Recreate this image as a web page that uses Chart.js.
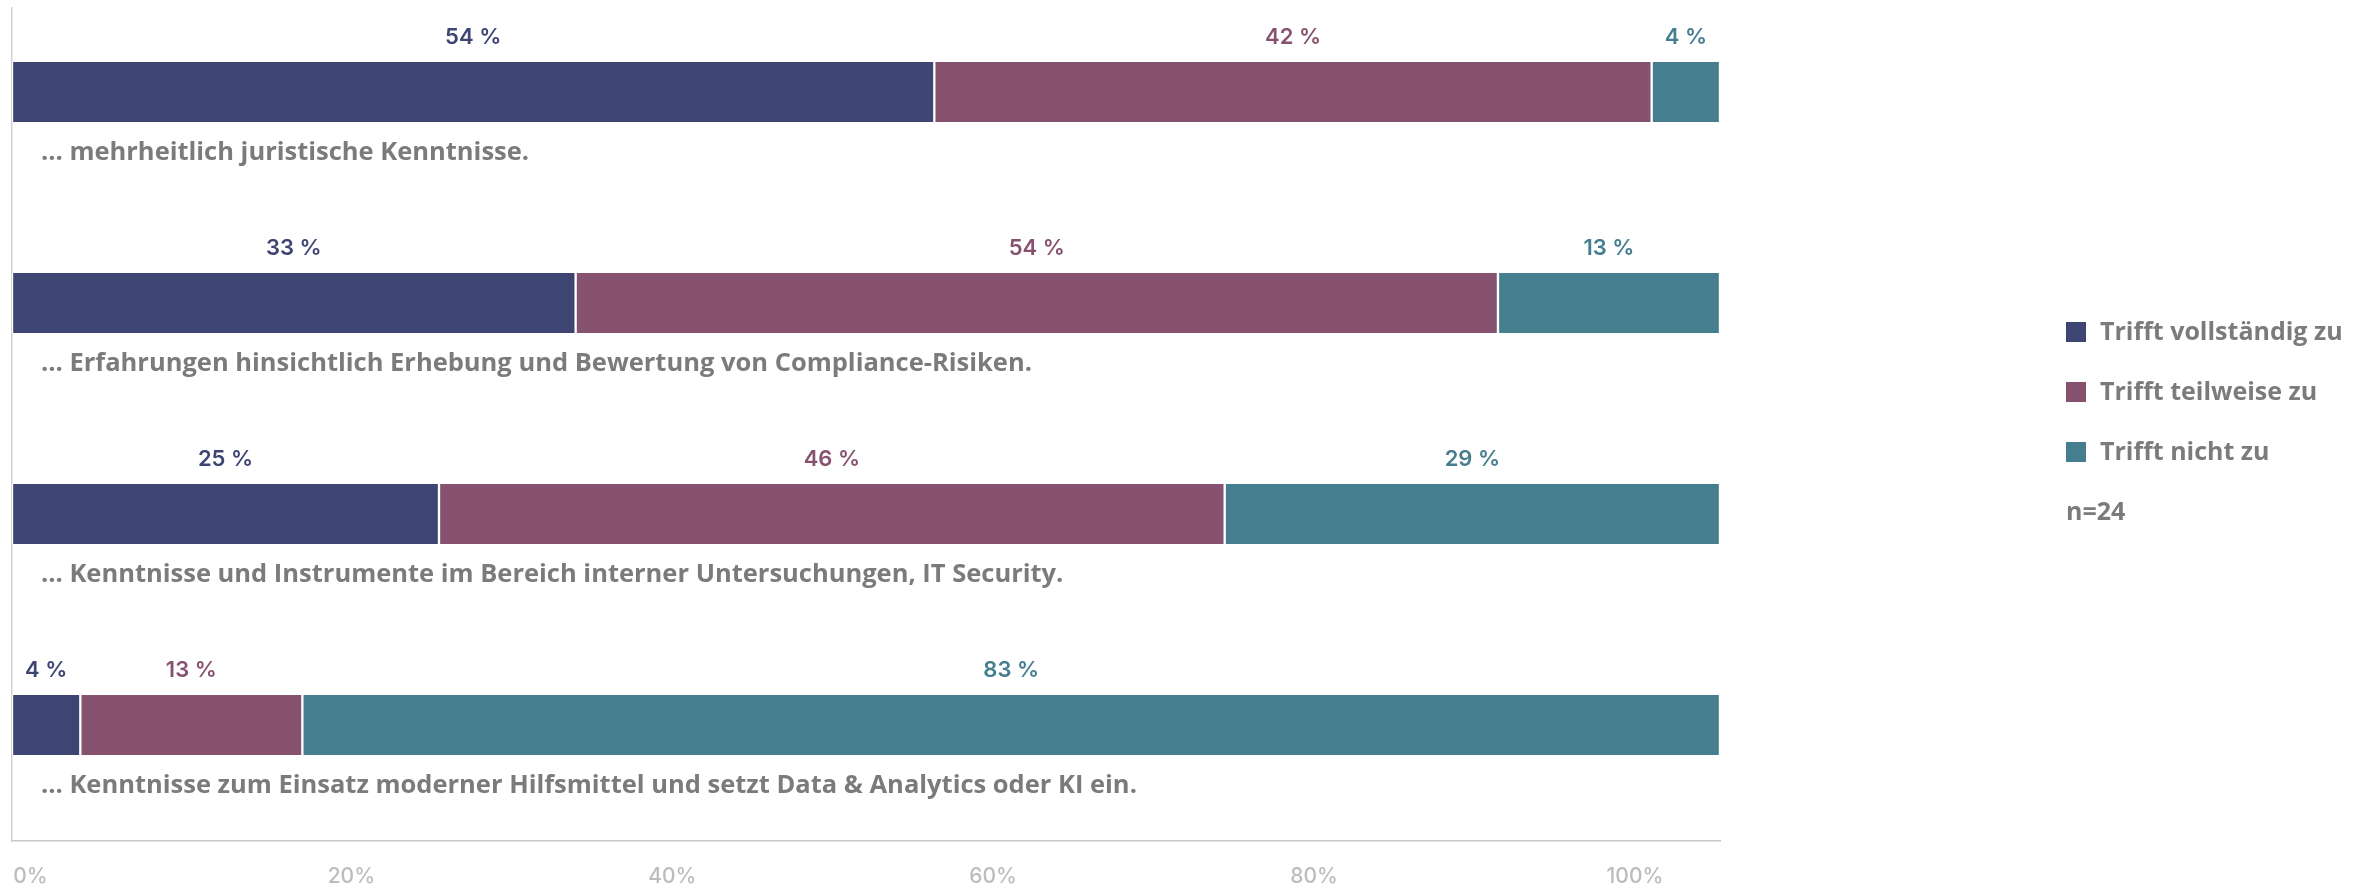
<!DOCTYPE html>
<html>
<head>
<meta charset="utf-8">
<script src="https://cdn.jsdelivr.net/npm/chart.js@4.4.1/dist/chart.umd.min.js"></script>
<style>
  html, body { margin: 0; padding: 0; background: #ffffff; }
  #wrap { position: relative; width: 2375px; height: 888px; }
</style>
</head>
<body>
<div id="wrap"><canvas id="c"></canvas></div>
<script>
// ---- data ----
const categories = [
  "… mehrheitlich juristische Kenntnisse.",
  "… Erfahrungen hinsichtlich Erhebung und Bewertung von Compliance-Risiken.",
  "… Kenntnisse und Instrumente im Bereich interner Untersuchungen, IT Security.",
  "… Kenntnisse zum Einsatz moderner Hilfsmittel und setzt Data & Analytics oder KI ein."
];
const seriesNames = ["Trifft vollständig zu", "Trifft teilweise zu", "Trifft nicht zu"];
const vollstaendig = [54, 33, 25, 4];
const teilweise = [42, 54, 46, 13];
const nicht = [4, 13, 29, 83];
const tickValues = [0, 20, 40, 60, 80, 100];
const sampleNote = "n=24";

const colors = ["#3f4572", "#875270", "#457e8f"];
const seriesValues = [vollstaendig, teilweise, nicht];

const toPoints = arr => arr.map((v, j) => ({ x: v, y: j }));

const labelPlugin = {
  id: 'labels',
  afterDatasetsDraw(chart) {
    const ctx = chart.ctx;
    ctx.save();
    // value labels above segments
    ctx.font = '600 22px Inter, "Noto Sans", sans-serif';
    ctx.textAlign = 'center';
    ctx.textBaseline = 'middle';
    chart.data.datasets.forEach((ds, i) => {
      const meta = chart.getDatasetMeta(i);
      meta.data.forEach((el, j) => {
        const p = el.getProps(['x', 'y', 'base', 'height'], true);
        const cx = (p.x + p.base) / 2;
        const top = p.y - p.height / 2;
        ctx.fillStyle = colors[i];
        ctx.fillText(seriesValues[i][j] + ' %', cx, top - 25);
      });
    });
    // category labels below bars
    const meta0 = chart.getDatasetMeta(0);
    ctx.font = '700 25.5px "Open Sans", sans-serif';
    ctx.textAlign = 'left';
    ctx.fillStyle = '#7b7b7b';
    meta0.data.forEach((el, j) => {
      const p = el.getProps(['y', 'height'], true);
      ctx.fillText(categories[j], chart.chartArea.left + 29, p.y + p.height / 2 + 31);
    });
    // legend
    const lx = 2066, ly0 = 332, step = 60;
    ctx.font = '700 25px "Open Sans", sans-serif';
    seriesNames.forEach((name, i) => {
      const y = ly0 + i * step;
      ctx.fillStyle = colors[i];
      ctx.fillRect(lx, y - 10, 20, 20);
      ctx.fillStyle = '#7b7b7b';
      ctx.fillText(name, lx + 34, y + 1);
    });
    ctx.fillStyle = '#7b7b7b';
    ctx.fillText(sampleNote, lx, ly0 + 3 * step + 1);
    ctx.restore();
  }
};

new Chart(document.getElementById('c'), {
  type: 'bar',
  data: {
    datasets: seriesNames.map((name, i) => ({
      label: name,
      data: toPoints(seriesValues[i]),
      backgroundColor: colors[i],
      borderColor: '#ffffff',
      borderWidth: { left: 1.5, right: 1.5, top: 0, bottom: 0 },
      borderSkipped: false,
      barThickness: 60,
      xAxisID: 'x',
      yAxisID: 'y'
    }))
  },
  options: {
    indexAxis: 'y',
    responsive: true,
    maintainAspectRatio: false,
    animation: false,
    layout: { padding: { left: 12, right: 655, top: 8, bottom: 0 } },
    plugins: { legend: { display: false }, tooltip: { enabled: false } },
    scales: {
      x: {
        type: 'linear', min: 0, max: 100, stacked: true, position: 'bottom', weight: 0, offset: false,
        grid: { display: false, drawTicks: false },
        border: { display: true, color: '#c9c9c9', width: 1.5 },
        ticks: { display: false },
        afterFit(s) { s.height = 0; s.paddingLeft = 0; s.paddingRight = 0; }
      },
      x2: {
        type: 'linear', min: -1.15, max: 105.3, position: 'bottom', weight: 1, offset: false,
        grid: { display: false, drawTicks: false },
        border: { display: false },
        afterBuildTicks(s) { s.ticks = tickValues.map(v => ({ value: v })); },
        ticks: {
          padding: 23,
          color: '#bcbcbc',
          font: { family: 'Inter, "Noto Sans", sans-serif', size: 21, weight: '500' },
          callback: v => v + '%'
        },
        afterFit(s) { s.height = 47; s.paddingLeft = 0; s.paddingRight = 0; }
      },
      y: {
        type: 'linear', min: -0.398, max: 3.55, reverse: true, stacked: true, offset: false,
        grid: { display: false, drawTicks: false },
        border: { display: true, color: '#d2d2d2', width: 1.5 },
        ticks: { display: false },
        afterFit(s) { s.width = 0; s.paddingTop = 0; s.paddingBottom = 0; }
      }
    }
  },
  plugins: [labelPlugin]
});
</script>
</body>
</html>
